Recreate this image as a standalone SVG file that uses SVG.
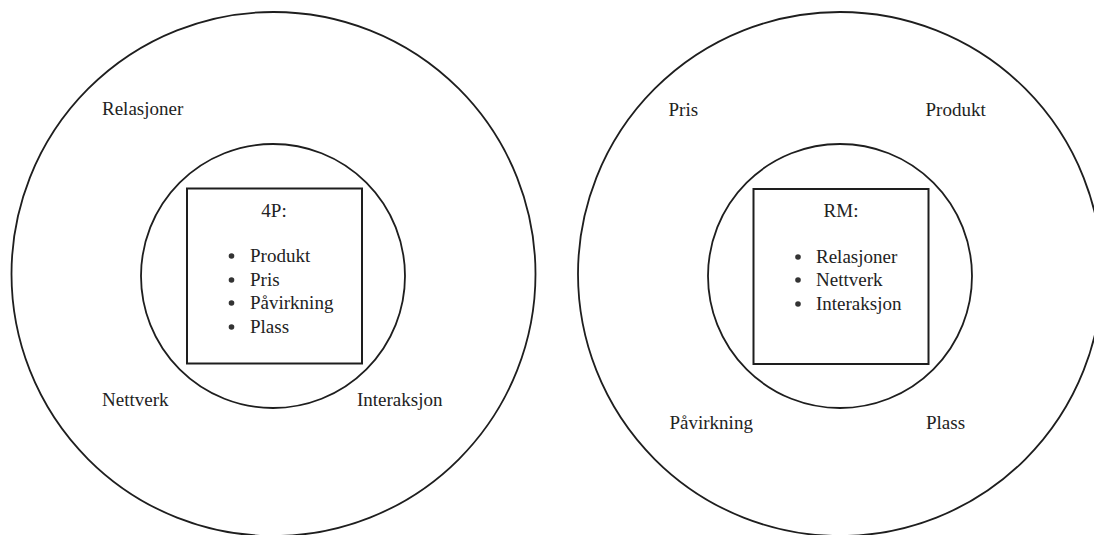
<svg xmlns="http://www.w3.org/2000/svg" width="1094" height="535" viewBox="0 0 1094 535">
<style>
.ring{fill:none;stroke:#1e1e1e;stroke-width:1.8}
.box{fill:none;stroke:#1e1e1e;stroke-width:2}
.t{font-family:"Liberation Serif","Times New Roman",serif;font-size:19px;fill:#222}
.c{text-anchor:middle}
.dot{fill:#333}
</style>
<rect width="1094" height="535" fill="#fff"/>
<g id="left-diagram">
  <circle id="left-outer" class="ring" cx="273.5" cy="274" r="262"/>
  <circle id="left-inner" class="ring" cx="273" cy="276" r="132"/>
  <g id="left-box">
    <rect class="box" x="187" y="188.5" width="175" height="175"/>
    <text class="t c" x="274" y="217">4P:</text>
    <circle class="dot" cx="231.5" cy="256" r="2.8"/>
    <text class="t" x="250" y="262">Produkt</text>
    <circle class="dot" cx="231.5" cy="280" r="2.8"/>
    <text class="t" x="250" y="286">Pris</text>
    <circle class="dot" cx="231.5" cy="303" r="2.8"/>
    <text class="t" x="250" y="309">Påvirkning</text>
    <circle class="dot" cx="231.5" cy="327" r="2.8"/>
    <text class="t" x="250" y="333">Plass</text>
  </g>
  <text id="left-relasjoner" class="t" x="102" y="115">Relasjoner</text>
  <text id="left-nettverk" class="t" x="102" y="406">Nettverk</text>
  <text id="left-interaksjon" class="t" x="357" y="406">Interaksjon</text>
</g>
<g id="right-diagram">
  <circle id="right-outer" class="ring" cx="840" cy="274" r="262"/>
  <circle id="right-inner" class="ring" cx="840" cy="276" r="132"/>
  <g id="right-box">
    <rect class="box" x="753.5" y="189" width="175" height="175"/>
    <text class="t c" x="841" y="217">RM:</text>
    <circle class="dot" cx="798" cy="257" r="2.8"/>
    <text class="t" x="816" y="263">Relasjoner</text>
    <circle class="dot" cx="798" cy="280" r="2.8"/>
    <text class="t" x="816" y="286">Nettverk</text>
    <circle class="dot" cx="798" cy="304" r="2.8"/>
    <text class="t" x="816" y="310">Interaksjon</text>
  </g>
  <text id="right-pris" class="t" x="668.5" y="115.5">Pris</text>
  <text id="right-produkt" class="t" x="925.5" y="115.5">Produkt</text>
  <text id="right-pavirkning" class="t" x="669.5" y="429">Påvirkning</text>
  <text id="right-plass" class="t" x="926" y="429">Plass</text>
</g>
<g id="connectors"/>
</svg>
